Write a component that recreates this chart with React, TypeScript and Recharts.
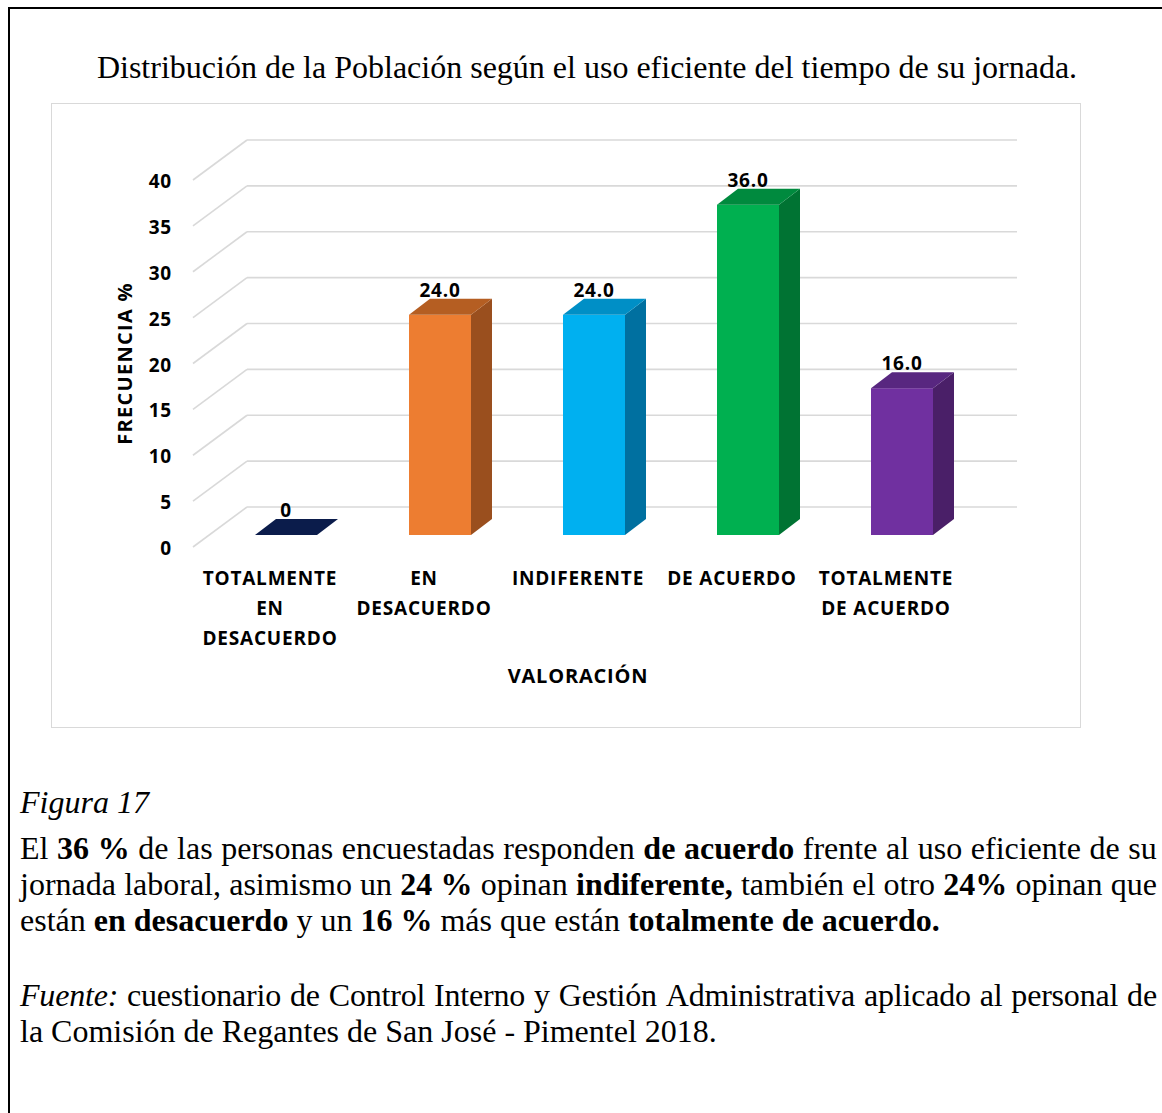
import React from 'react';
import { BarChart, Bar, XAxis, YAxis, CartesianGrid, LabelList } from 'recharts';

const categories = [
  'TOTALMENTE EN DESACUERDO',
  'EN DESACUERDO',
  'INDIFERENTE',
  'DE ACUERDO',
  'TOTALMENTE DE ACUERDO',
];
const tickLines = [
  ['TOTALMENTE', 'EN', 'DESACUERDO'],
  ['EN', 'DESACUERDO'],
  ['INDIFERENTE'],
  ['DE ACUERDO'],
  ['TOTALMENTE', 'DE ACUERDO'],
];
const values = [0, 24, 24, 36, 16];
const yTicks = [0, 5, 10, 15, 20, 25, 30, 35, 40];

const frontColors = ['#0B1C4B', '#ED7D31', '#00B0F0', '#00B050', '#7030A0'];
const sideColors = ['#0B1C4B', '#9A4F1E', '#0070A0', '#007333', '#4A1F68'];
const topColors = ['#0B1C4B', '#B55E22', '#008FC6', '#008A3E', '#582780'];

const data = categories.map((name, i) => ({ name, value: values[i] }));

const FRONT_DX = -16;
const FRONT_DY = 12;
const BACK_DX = 38;
const BACK_DY = -28;
const BAR_DX = 21;
const BAR_DY = -16;

const SANS = "'Open Sans', 'Noto Sans', sans-serif";
const SERIF = "'Liberation Serif', 'Times New Roman', serif";
const GRID = '#d9d9d9';

const gridLine = (p: any) => {
  const { x1, x2, y1 } = p;
  return (
    <g key={p.key ?? `g-${y1}`}>
      <line x1={x1 + FRONT_DX} y1={y1 + FRONT_DY} x2={x1 + BACK_DX} y2={y1 + BACK_DY} stroke={GRID} strokeWidth={1.6} />
      <line x1={x1 + BACK_DX} y1={y1 + BACK_DY} x2={x2 + BACK_DX} y2={y1 + BACK_DY} stroke={GRID} strokeWidth={1.6} />
    </g>
  );
};

const Bar3D = (p: any) => {
  const { x, y, width, height } = p;
  let idx = typeof p.index === 'number' ? p.index : categories.indexOf(p.payload?.name);
  if (idx < 0) idx = 0;
  const f = frontColors[idx];
  const s = sideColors[idx];
  const t = topColors[idx];
  const h = Math.max(0, height || 0);
  return (
    <g>
      {h > 0 && <rect x={x} y={y} width={width} height={h} fill={f} />}
      {h > 0 && (
        <polygon
          points={`${x + width},${y} ${x + width + BAR_DX},${y + BAR_DY} ${x + width + BAR_DX},${y + h + BAR_DY} ${x + width},${y + h}`}
          fill={s}
        />
      )}
      <polygon
        points={`${x},${y} ${x + BAR_DX},${y + BAR_DY} ${x + width + BAR_DX},${y + BAR_DY} ${x + width},${y}`}
        fill={t}
      />
    </g>
  );
};

const renderValueLabel = (p: any) => {
  const vb = p.viewBox || {};
  const x = p.x ?? vb.x;
  const y = p.y ?? vb.y;
  const width = p.width ?? vb.width;
  const v = Number(p.value);
  return (
    <text
      x={x + width / 2}
      y={y - 25}
      textAnchor="middle"
      dominantBaseline="central"
      fontFamily={SANS}
      fontWeight={700}
      fontSize={19}
      letterSpacing={0.8}
      fill="#000"
    >
      {v === 0 ? '0' : v.toFixed(1)}
    </text>
  );
};

const YTick = (p: any) => (
  <text
    x={p.x - 37}
    y={p.y + 13}
    textAnchor="end"
    dominantBaseline="central"
    fontFamily={SANS}
    fontWeight={700}
    fontSize={19}
    letterSpacing={0.8}
    fill="#000"
  >
    {p.payload.value}
  </text>
);

const XTick = (p: any) => {
  let idx = categories.indexOf(p.payload.value);
  if (idx < 0) idx = p.index ?? 0;
  const lines = tickLines[idx] || [];
  const cx = p.x + FRONT_DX;
  return (
    <text textAnchor="middle" fontFamily={SANS} fontWeight={700} fontSize={19} letterSpacing={0.8} fill="#000">
      {lines.map((l, i) => (
        <tspan key={i} x={cx} y={p.y + 50 + i * 30}>
          {l}
        </tspan>
      ))}
    </text>
  );
};

const yLabel = (props: any) => {
  const vb = props.viewBox || { x: 98, y: 65, width: 60, height: 367 };
  const x = vb.x - 25;
  const y = vb.y + vb.height / 2 + 12;
  return (
    <text
      x={x}
      y={y}
      transform={`rotate(-90, ${x}, ${y})`}
      textAnchor="middle"
      dominantBaseline="central"
      fontFamily={SANS}
      fontWeight={700}
      fontSize={20}
      letterSpacing={1.3}
      fill="#000"
    >
      FRECUENCIA %
    </text>
  );
};

const xLabel = (props: any) => {
  const vb = props.viewBox || { x: 158, y: 432, width: 770, height: 150 };
  return (
    <text
      x={vb.x + vb.width / 2 + FRONT_DX}
      y={vb.y + 148}
      textAnchor="middle"
      fontFamily={SANS}
      fontWeight={700}
      fontSize={20}
      letterSpacing={0.8}
      fill="#000"
    >
      VALORACIÓN
    </text>
  );
};

type Seg = { t: string; b?: boolean; i?: boolean };

const textFont: React.CSSProperties = {
  fontSize: 32,
  fontFamily: SERIF,
  color: '#000',
  lineHeight: '36px',
  height: 36,
};

const TextLine = ({ segs, top, justify, spacing = 0 }: { segs: Seg[]; top: number; justify: boolean; spacing?: number }) => {
  if (!justify) {
    return (
      <div style={{ position: 'absolute', left: 20, top, whiteSpace: 'pre', letterSpacing: spacing, ...textFont }}>
        {segs.map((s, k) => (
          <span key={k} style={{ fontWeight: s.b ? 700 : 400, fontStyle: s.i ? 'italic' : 'normal' }}>
            {s.t}
          </span>
        ))}
      </div>
    );
  }
  const words: Seg[] = [];
  segs.forEach((s) =>
    s.t
      .split(' ')
      .filter((w) => w.length > 0)
      .forEach((w) => words.push({ t: w, b: s.b, i: s.i }))
  );
  return (
    <div
      style={{
        position: 'absolute',
        left: 20,
        top,
        width: 1137,
        display: 'flex',
        justifyContent: 'space-between',
        whiteSpace: 'nowrap',
        letterSpacing: spacing,
        ...textFont,
      }}
    >
      {words.map((w, k) => (
        <span key={k} style={{ fontWeight: w.b ? 700 : 400, fontStyle: w.i ? 'italic' : 'normal' }}>
          {w.t}
        </span>
      ))}
    </div>
  );
};

export default function App() {
  return (
    <div
      style={{
        position: 'absolute',
        left: 0,
        top: 0,
        width: 1162,
        height: 1113,
        overflow: 'hidden',
        background: '#fff',
      }}
    >
      <div
        style={{
          position: 'absolute',
          left: 8,
          top: 7,
          width: 1154,
          height: 1106,
          borderLeft: '2px solid #000',
          borderTop: '2px solid #000',
          boxSizing: 'border-box',
        }}
      />
      <div
        style={{
          position: 'absolute',
          left: 87,
          top: 49,
          width: 1000,
          lineHeight: '36px',
          fontSize: 32,
          fontFamily: SERIF,
          textAlign: 'center',
          whiteSpace: 'nowrap',
          color: '#000',
        }}
      >
        Distribución de la Población según el uso eficiente del tiempo de su jornada.
      </div>
      <div
        style={{
          position: 'absolute',
          left: 51,
          top: 103,
          width: 1030,
          height: 625,
          border: '1.5px solid #d9d9d9',
          boxSizing: 'border-box',
        }}
      />
      <div style={{ position: 'absolute', left: 51, top: 103 }}>
        <BarChart
          width={1030}
          height={625}
          data={data}
          margin={{ top: 65, right: 102, bottom: 43, left: 98 }}
        >
          <CartesianGrid vertical={false} horizontal={gridLine} />
          <XAxis
            dataKey="name"
            interval={0}
            height={150}
            axisLine={false}
            tickLine={false}
            tickSize={0}
            tickMargin={0}
            tick={XTick}
            label={xLabel}
          />
          <YAxis
            domain={[0, 40]}
            ticks={yTicks}
            width={60}
            axisLine={false}
            tickLine={false}
            tickSize={0}
            tickMargin={0}
            tick={YTick}
            label={yLabel}
          />
          <Bar dataKey="value" barSize={62} shape={Bar3D} isAnimationActive={false}>
            <LabelList dataKey="value" content={renderValueLabel} />
          </Bar>
        </BarChart>
      </div>

      <div
        style={{
          position: 'absolute',
          left: 20,
          top: 784,
          whiteSpace: 'nowrap',
          fontStyle: 'italic',
          ...textFont,
        }}
      >
        Figura 17
      </div>
      <TextLine
        top={830}
        justify
        segs={[
          { t: 'El ' },
          { t: '36 %', b: true },
          { t: ' de las personas encuestadas responden ' },
          { t: 'de acuerdo', b: true },
          { t: ' frente al uso eficiente de su' },
        ]}
      />
      <TextLine
        top={866}
        justify
        segs={[
          { t: 'jornada laboral, asimismo un ' },
          { t: '24 %', b: true },
          { t: ' opinan ' },
          { t: 'indiferente,', b: true },
          { t: ' también el otro ' },
          { t: '24%', b: true },
          { t: ' opinan que' },
        ]}
      />
      <TextLine
        top={902}
        justify={false}
        segs={[
          { t: 'están ' },
          { t: 'en desacuerdo', b: true },
          { t: ' y un ' },
          { t: '16 %', b: true },
          { t: ' más que están ' },
          { t: 'totalmente de acuerdo.', b: true },
        ]}
      />
      <TextLine
        top={977}
        justify
        spacing={-0.2}
        segs={[
          { t: 'Fuente:', i: true },
          { t: ' cuestionario de Control Interno y Gestión Administrativa aplicado al personal de' },
        ]}
      />
      <TextLine top={1013} justify={false} segs={[{ t: 'la Comisión de Regantes de San José - Pimentel 2018.' }]} />
    </div>
  );
}
